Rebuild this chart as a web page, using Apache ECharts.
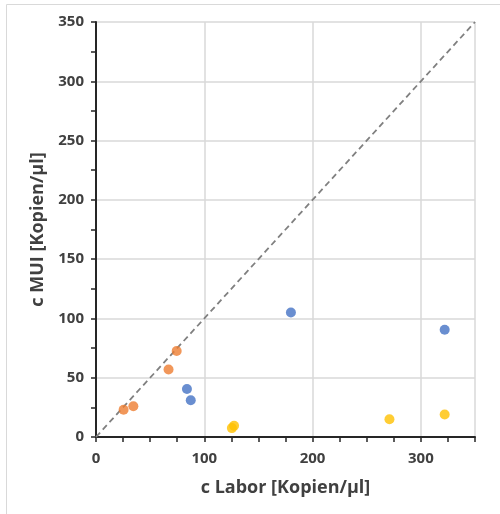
<!DOCTYPE html>
<html>
<head>
<meta charset="utf-8">
<script src="https://cdn.jsdelivr.net/npm/echarts@6/dist/echarts.min.js"></script>
<style>
  html, body { margin: 0; padding: 0; background: #fff; }
  #chart { width: 500px; height: 514px; }
</style>
</head>
<body>
<div id="chart"></div>
<script>
// values [c Labor, c MUI]
const bluePts = [[84, 40.5], [87.5, 31], [180, 105], [322, 90.5]]
const orangePts = [[25.5, 23], [34.5, 26], [67, 57], [74.5, 72.5]]
const yellowPts = [[125.5, 7.5], [127.5, 9.5], [271, 15], [322, 19]]
const identityLine = [[0, 0], [350, 350]]

const xName = 'c Labor [Kopien/µl]'
const yName = 'c MUI [Kopien/µl]'

const FONT = '"Open Sans", "Noto Sans", sans-serif'
const AXIS_COLOR = '#262626'
const TEXT_COLOR = '#404040'

function dotSeries (data, color) {
  return {
    type: 'scatter',
    data,
    symbolSize: 10,
    itemStyle: { color },
    z: 3
  }
}

function axis (name, interval, minorSplit, nameGap, labelMargin, showMax) {
  return {
    type: 'value',
    min: 0,
    max: 350,
    interval,
    name,
    nameLocation: 'middle',
    nameGap,
    nameTextStyle: { fontSize: 18, fontWeight: 'bold', color: TEXT_COLOR, fontFamily: FONT },
    axisLine: { show: true, onZero: false, lineStyle: { color: AXIS_COLOR, width: 2 } },
    axisTick: { show: true, length: 5, lineStyle: { color: AXIS_COLOR, width: 1.5 } },
    minorTick: { show: true, splitNumber: minorSplit, length: 5, lineStyle: { color: AXIS_COLOR, width: 1.5 } },
    axisLabel: { fontSize: 15, fontWeight: 'bold', color: TEXT_COLOR, margin: labelMargin, showMaxLabel: showMax },
    splitLine: { show: true, lineStyle: { color: '#d9d9d9', width: 1.5 } },
    minorSplitLine: { show: false }
  }
}

const chart = echarts.init(document.getElementById('chart'))
chart.setOption({
  animation: false,
  textStyle: { fontFamily: FONT },
  grid: { left: 96, right: 25, top: 22, bottom: 77 },
  graphic: [{
    type: 'rect',
    left: 4,
    top: 2,
    shape: { width: 500, height: 520 },
    style: { fill: 'none', stroke: '#d9d9d9', lineWidth: 1 },
    silent: true
  }],
  xAxis: axis(xName, 100, 4, 42, 14, false),
  yAxis: axis(yName, 50, 2, 48, 12, true),
  series: [
    {
      type: 'line',
      data: identityLine,
      symbol: 'none',
      lineStyle: { color: '#808080', width: 1.8, type: [6, 4] },
      z: 2
    },
    dotSeries(bluePts, '#4472C4'),
    dotSeries(orangePts, '#ED7D31'),
    dotSeries(yellowPts, '#FFC000')
  ]
})
</script>
</body>
</html>
